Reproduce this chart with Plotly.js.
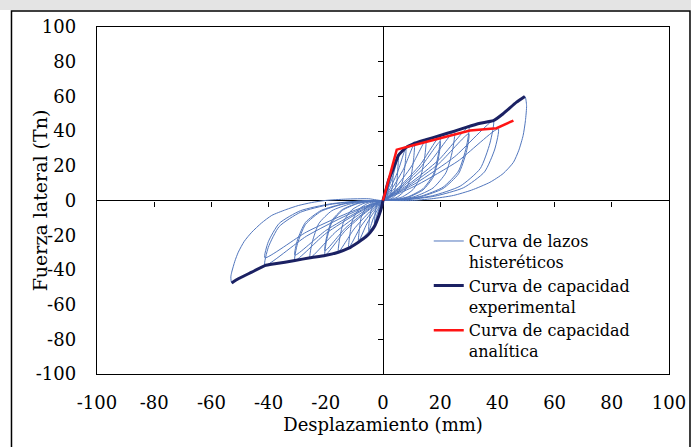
<!DOCTYPE html>
<html>
<head>
<meta charset="utf-8">
<script src="https://cdn.plot.ly/plotly-3.0.1.min.js"></script>
<style>html,body{margin:0;padding:0;background:#fff;}#chart{width:691px;height:447px;}</style>
</head>
<body>
<div id="chart"></div>
<script>
// Hysteresis loops (one list per load cycle): displacement (mm) and lateral force (Tn)
const hystDisp = [
  [0,0.3,0.7,1,0.97,0.88,0.7,0.45,0.2,0,-0.2,-0.45,-0.7,-0.68,-0.6,-0.5,-0.3,-0.1,0],
  [0,0.6,1.3,2,1.94,1.76,1.4,0.9,0.4,0,-0.5,-1,-1.5,-1.46,-1.3,-1.05,-0.7,-0.3,0],
  [0,1.1,2.3,3.6,3.5,3.2,2.5,1.6,0.7,0,-0.9,-2,-3,-2.9,-2.6,-2.1,-1.4,-0.6,0],
  [0,1.6,3.5,5.4,5.2,4.8,3.8,2.4,1.1,0,-1.5,-3.3,-5,-4.9,-4.4,-3.5,-2.3,-1,0],
  [0,2.4,5.2,8,7.8,7,5.6,3.6,1.6,0,-2.6,-5.6,-8.6,-8.3,-7.6,-6,-3.9,-1.7,0],
  [0,3.3,7.2,11,10.7,9.7,7.7,5,2.2,0,-3.6,-7.8,-12,-11.6,-10.6,-8.4,-5.4,-2.4,0],
  [0,4.5,9.8,15,14.6,13.2,10.5,6.8,3,0,-4.7,-10.1,-15.6,-15.1,-13.7,-10.9,-7,-3.1,0],
  [0,6,13,20,19.4,17.6,14,9,4,0,-6.1,-13.2,-20.3,-19.7,-17.9,-14.2,-9.1,-4.1,0],
  [0,6,13,20,19.4,17.6,14,9,4,0,-6.1,-13.2,-20.3,-19.7,-17.9,-14.2,-9.1,-4.1,0],
  [0,7.5,16.3,25,24.3,22,17.5,11.3,5,0,-7.7,-16.6,-25.5,-24.7,-22.4,-17.9,-11.5,-5.1,0],
  [0,9,19.5,30,29.1,26.4,21,13.5,6,0,-9.2,-20,-30.8,-29.9,-27.1,-21.6,-13.9,-6.2,0],
  [0,9,19.5,30,29.1,26.4,21,13.5,6,0,-9.2,-20,-30.8,-29.9,-27.1,-21.6,-13.9,-6.2,0],
  [0,11.6,25.1,38.6,37.4,34,27,17.4,7.7,0,-12.4,-26.8,-41.3,-40.1,-36.3,-28.9,-18.6,-8.3,0],
  [0,12.1,26.2,40.3,39.1,35.5,28.2,18.1,8.1,0,-12.4,-26.8,-41.3,-40.1,-36.3,-28.9,-18.6,-8.3,0],
  [0,1,2,3.6,5.4,8,10.6,15,20,25,29.3,34,38.6,42,46.7,49.6,50.2,49.8,49,47.5,45.6,42,37.4,31,24.6,17,10,3,0,
   -0.5,-1.5,-3,-5,-8.6,-12,-15.6,-20.3,-25.5,-30.8,-37.8,-41.3,-45.9,-50.6,-52.9,
   -53.2,-52.9,-51.8,-50.6,-48.5,-45.9,-42.5,-38.9,-34,-29.6,-25,-20.3,-13,-5,0]
];
const hystForce = [
  [0,1.3,3.3,6,4.3,2.4,1.1,0.4,0.1,0,-1.1,-2.8,-5,-3.6,-2,-0.9,-0.3,-0.1,0],
  [0,2.6,6.6,12,8.6,4.8,2.2,0.7,0.1,0,-2,-5,-9,-6.5,-3.6,-1.6,-0.5,-0.1,0],
  [0,4,10.1,18.3,13.2,7.3,3.3,1.1,0.2,0,-3.1,-7.7,-14,-10.1,-5.6,-2.5,-0.8,-0.1,0],
  [0,5.7,14.3,26,18.7,10.4,4.7,1.6,0.3,0,-4,-9.9,-18,-13,-7.2,-3.2,-1.1,-0.2,0],
  [0,6.7,16.8,30.5,22,12.2,5.5,1.8,0.3,0,-5.3,-13.2,-24,-17.3,-9.6,-4.3,-1.4,-0.2,0],
  [0,7.3,18.2,33,23.8,13.2,5.9,2,0.3,0,-6.1,-15.1,-27.5,-19.8,-11,-5,-1.7,-0.3,0],
  [0,7.7,19.3,35,25.2,14,6.3,2.1,0.4,0,-6.6,-16.4,-29.8,-21.5,-11.9,-5.4,-1.8,-0.3,0],
  [0,8.3,20.6,37.5,27,15,6.8,2.3,0.4,0,-7,-17.4,-31.7,-22.8,-12.7,-5.7,-1.9,-0.3,0],
  [0,7.5,18.8,34,24.5,13.6,6.1,2,0.3,0,-6.4,-16,-29,-20.9,-11.6,-5.2,-1.7,-0.3,0],
  [0,8.8,22,40,28.8,16,7.2,2.4,0.4,0,-7.3,-18.2,-33,-23.8,-13.2,-5.9,-2,-0.3,0],
  [0,9.4,23.4,42.5,30.6,17,7.7,2.6,0.4,0,-7.6,-19,-34.6,-24.9,-13.8,-6.2,-2.1,-0.3,0],
  [0,8.5,21.2,38.5,27.7,15.4,6.9,2.3,0.4,0,-6.9,-17.3,-31.5,-22.7,-12.6,-5.7,-1.9,-0.3,0],
  [0,10.1,25.3,46,33.1,18.4,8.3,2.8,0.5,0,-8.3,-20.6,-37.5,-27,-15,-6.8,-2.3,-0.4,0],
  [0,9.1,22.7,41.3,29.7,16.5,7.4,2.5,0.4,0,-7.3,-18.2,-33,-23.8,-13.2,-5.9,-2,-0.3,0],
  [0,6,12,18.3,26,30.5,32.7,35,37.5,40,42.3,44.5,46,50,56.7,60,54.8,46,37.5,29,22,15.5,10.5,6,2.9,1,0,0,0,
   -4,-9,-14,-18,-24,-27.5,-29.8,-31.7,-33,-34.6,-36.5,-37.5,-41.3,-45.1,-47.5,
   -44,-41.3,-35,-29.8,-23.5,-18.3,-13,-8.6,-5.3,-2.9,-1.2,0,0.8,1,0]
];

// Experimental capacity curve
const expDisp  = [-52.9,-50.6,-45.9,-41.3,-37.8,-30.8,-25.5,-20.3,-15.6,-12,-8.6,-6,-4.5,-3,-1.5,-0.5,0,1,2,3.6,5.4,8,10.6,15,20,25,29.3,34,38.6,42,46.7,49.6];
const expForce = [-47.5,-45.1,-41.3,-37.5,-36.5,-34.6,-33,-31.7,-29.8,-27.5,-24,-21,-18.5,-15,-9,-4,0,6,12,18.3,26,30.5,32.7,35,37.5,40,42.3,44.5,46,50,56.7,60];

// Analytical capacity curve
const anaDisp  = [0,4.8,10.6,20,30.4,39.7,45.6];
const anaForce = [0,29.3,31.8,35.8,40.3,41.7,46.1];

const tickVals = [-100,-80,-60,-40,-20,0,20,40,60,80,100];
const tickText = ['-100','-80','-60','-40','-20','0','20','40','60','80','100'];
const innerTicks = [-80,-60,-40,-20,20,40,60,80];

const seriesNames = ['Curva de lazos<br>histeréticos','Curva de capacidad<br>experimental','Curva de capacidad<br>analítica'];

const hx = [], hy = [];
hystDisp.forEach((c, i) => { hx.push(...c); hy.push(...hystForce[i]); });

const serif = '"DejaVu Serif", serif';

const traces = [
  {x: hx, y: hy, type: 'scatter', mode: 'lines', name: seriesNames[0],
   line: {color: '#5176bd', width: 1, shape: 'spline', smoothing: 0.6}, hoverinfo: 'skip'},
  {x: expDisp, y: expForce, type: 'scatter', mode: 'lines', name: seriesNames[1],
   line: {color: '#1b2163', width: 3, shape: 'spline', smoothing: 0.4}},
  {x: anaDisp, y: anaForce, type: 'scatter', mode: 'lines', name: seriesNames[2],
   line: {color: '#ff1414', width: 2.5}},
  {x: [], y: [], xaxis: 'x2', yaxis: 'y2', type: 'scatter', showlegend: false, hoverinfo: 'skip'},
  {x: [], y: [], xaxis: 'x', yaxis: 'y3', type: 'scatter', showlegend: false, hoverinfo: 'skip'}
];

const layout = {
  width: 691, height: 447,
  margin: {l: 97, r: 22, t: 27, b: 73},
  paper_bgcolor: '#ffffff', plot_bgcolor: '#ffffff',
  showlegend: true,
  font: {family: serif, color: '#000'},
  xaxis: {
    range: [-100, 100], tickvals: tickVals, ticktext: tickText,
    showline: true, mirror: true, linecolor: '#000', linewidth: 1.3,
    ticks: '', showgrid: false, zeroline: true, zerolinecolor: '#000', zerolinewidth: 1,
    tickfont: {family: serif, size: 18, color: '#000'}, ticklabelstandoff: 12,
    title: {text: 'Desplazamiento (mm)', font: {family: serif, size: 18, color: '#000'}, standoff: 6}
  },
  yaxis: {
    range: [-100, 100], tickvals: tickVals, ticktext: tickText,
    showline: true, mirror: true, linecolor: '#000', linewidth: 1.3,
    ticks: '', showgrid: false, zeroline: true, zerolinecolor: '#000', zerolinewidth: 1,
    tickfont: {family: serif, size: 18, color: '#000'}, ticklabelstandoff: 16
  },
  xaxis2: {
    overlaying: 'x', anchor: 'free', position: 0.5, side: 'bottom',
    range: [-100, 100], tickvals: innerTicks, ticks: 'outside', ticklen: 5,
    tickcolor: '#000', showticklabels: false, showline: false, showgrid: false, zeroline: false
  },
  yaxis2: {
    overlaying: 'y', anchor: 'free', position: 0.5, side: 'left',
    range: [-100, 100], tickvals: innerTicks, ticks: 'outside', ticklen: 5,
    tickcolor: '#000', showticklabels: false, showline: false, showgrid: false, zeroline: false
  },
  yaxis3: {
    overlaying: 'y', anchor: 'free', position: 0, side: 'left',
    range: [-100, 100], ticks: '', showticklabels: false, showline: false, showgrid: false, zeroline: false,
    title: {text: 'Fuerza lateral (Tn)', font: {family: serif, size: 19, color: '#000'}, standoff: 43}
  },
  legend: {
    x: 0.58, y: 0.432, xanchor: 'left', yanchor: 'top',
    bgcolor: 'rgba(255,255,255,0)', borderwidth: 0,
    font: {family: serif, size: 16, color: '#000'},
    valign: 'top', tracegroupgap: 0
  },
  shapes: [
    {type: 'rect', xref: 'paper', yref: 'paper', x0: -0.2, x1: 1.1, y0: 1.049, y1: 1.09,
     fillcolor: '#e4e4e4', line: {width: 0}, layer: 'below'},
    {type: 'rect', xref: 'paper', yref: 'paper', x0: -0.1495, x1: 1.0367, y0: -0.25, y1: 1.0461,
     fillcolor: 'rgba(0,0,0,0)', line: {color: '#000', width: 1.5}, layer: 'above'}
  ]
};

Plotly.newPlot('chart', traces, layout, {displayModeBar: false, staticPlot: true});
</script>
</body>
</html>
